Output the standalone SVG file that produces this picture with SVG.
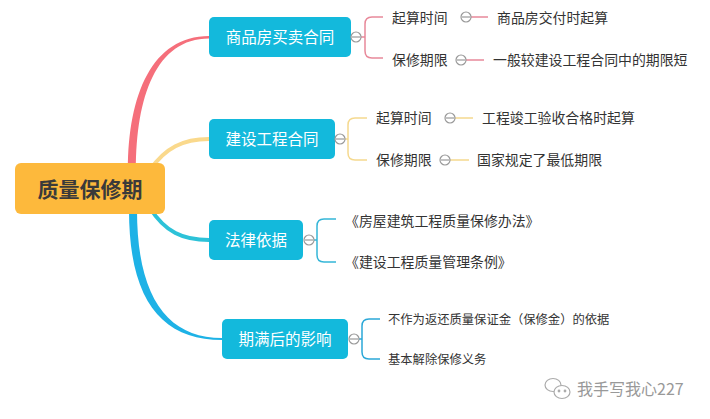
<svg xmlns="http://www.w3.org/2000/svg" width="710" height="419" viewBox="0 0 710 419">
<style>
.node rect{fill:#13B9DC}
.node text{fill:#fff;font-family:"Noto Sans CJK SC","Noto Sans",sans-serif;font-size:15.5px;text-anchor:middle}
.leaf{fill:#333;font-family:"Noto Sans CJK SC","Noto Sans",sans-serif;font-size:13.9px}
.small{font-size:12.3px}
.tog circle{fill:#fff;stroke:#999;stroke-width:1.2}
.tog line{stroke:#999;stroke-width:1.2}
.br{fill:none;stroke-width:1.5}
</style>
<rect width="710" height="419" fill="#fff"/>
<g id="connectors">
  <path d="M128,170 C128,95 152,36 209,36 L209,38.5 C156,38.5 136,97 136,170 Z" fill="#F56F7B"/>
  <path d="M150,170 C165,148 183,139 209,139" fill="none" stroke="#FAD98C" stroke-width="4"/>
  <path d="M150,208 C165,232 183,240 209,240" fill="none" stroke="#2DC2D8" stroke-width="4"/>
  <path d="M129,210 C129,302 163,340 222,340 L222,338 C168,338 137,298 137,210 Z" fill="#1EB2E6"/>
  <path class="br" stroke="#E8899A" d="M361,37 H365 M383,17 H372 Q365,17 365,24 V51 Q365,58 372,58 H383"/>
  <path class="br" stroke="#E8899A" d="M471,17 H488 M466,60 H484"/>
  <path class="br" stroke="#F5D98F" d="M345,139 H348 M367,118 H355 Q348,118 348,125 V153 Q348,160 355,160 H367"/>
  <path class="br" stroke="#F5D98F" d="M455,118 H473 M450,160 H469"/>
  <path class="br" stroke="#35B6D8" d="M314,240 H317 M336,219 H324 Q317,219 317,226 V255 Q317,262 324,262 H336"/>
  <path class="br" stroke="#2BA8D8" d="M359,339 H362 M380,319 H369 Q362,319 362,326 V352 Q362,359 369,359 H380"/>
</g>
<g id="root">
  <rect x="15" y="163" width="150" height="51" rx="6" fill="#FDB93C"/>
  <text x="90" y="197" font-family="Noto Sans CJK SC,sans-serif" font-size="21" font-weight="bold" fill="#3A3A3A" text-anchor="middle">质量保修期</text>
</g>
<g id="n1" class="node">
  <rect x="209" y="17" width="142" height="40" rx="5"/>
  <text x="280" y="42.5">商品房买卖合同</text>
</g>
<g id="n2" class="node">
  <rect x="209" y="119" width="126" height="40" rx="5"/>
  <text x="272" y="144.5">建设工程合同</text>
</g>
<g id="n3" class="node">
  <rect x="209" y="220" width="94" height="40" rx="5"/>
  <text x="256" y="245.5">法律依据</text>
</g>
<g id="n4" class="node">
  <rect x="222" y="319" width="126" height="40" rx="5"/>
  <text x="285" y="344.5">期满后的影响</text>
</g>
<g class="tog">
  <circle cx="356" cy="37" r="5"/><line x1="352" y1="37" x2="360" y2="37"/>
  <circle cx="340" cy="139" r="5"/><line x1="336" y1="139" x2="344" y2="139"/>
  <circle cx="309" cy="240" r="5"/><line x1="305" y1="240" x2="313" y2="240"/>
  <circle cx="354" cy="339" r="5"/><line x1="350" y1="339" x2="358" y2="339"/>
  <circle cx="466" cy="17" r="5"/><line x1="462" y1="17" x2="470" y2="17"/>
  <circle cx="461" cy="60" r="5"/><line x1="457" y1="60" x2="465" y2="60"/>
  <circle cx="450" cy="118" r="5"/><line x1="446" y1="118" x2="454" y2="118"/>
  <circle cx="445" cy="160" r="5"/><line x1="441" y1="160" x2="449" y2="160"/>
</g>
<g id="n1a"><text class="leaf" x="392" y="23">起算时间</text></g>
<g id="n1a1"><text class="leaf" x="497" y="23">商品房交付时起算</text></g>
<g id="n1b"><text class="leaf" x="392" y="65">保修期限</text></g>
<g id="n1b1"><text class="leaf" x="493" y="65">一般较建设工程合同中的期限短</text></g>
<g id="n2a"><text class="leaf" x="376" y="123">起算时间</text></g>
<g id="n2a1"><text class="leaf" x="482" y="123">工程竣工验收合格时起算</text></g>
<g id="n2b"><text class="leaf" x="376" y="165">保修期限</text></g>
<g id="n2b1"><text class="leaf" x="477" y="165">国家规定了最低期限</text></g>
<g id="n3a"><text class="leaf" x="345" y="226">《房屋建筑工程质量保修办法》</text></g>
<g id="n3b"><text class="leaf" x="345" y="267">《建设工程质量管理条例》</text></g>
<g id="n4a"><text class="leaf small" x="388" y="324">不作为返还质量保证金（保修金）的依据</text></g>
<g id="n4b"><text class="leaf small" x="388" y="364">基本解除保修义务</text></g>
<g id="watermark" fill="none" stroke="#aaa" stroke-width="1.2">
  <ellipse cx="553" cy="385" rx="8" ry="6.5"/>
  <ellipse cx="562" cy="392" rx="8" ry="6.5" fill="#fff"/>
  <circle cx="559" cy="391" r="0.8" fill="#aaa"/>
  <circle cx="565" cy="391" r="0.8" fill="#aaa"/>
  <text x="577" y="395" stroke="none" fill="#999" font-family="Noto Sans CJK SC,sans-serif" font-size="16">我手写我心227</text>
</g>
</svg>
